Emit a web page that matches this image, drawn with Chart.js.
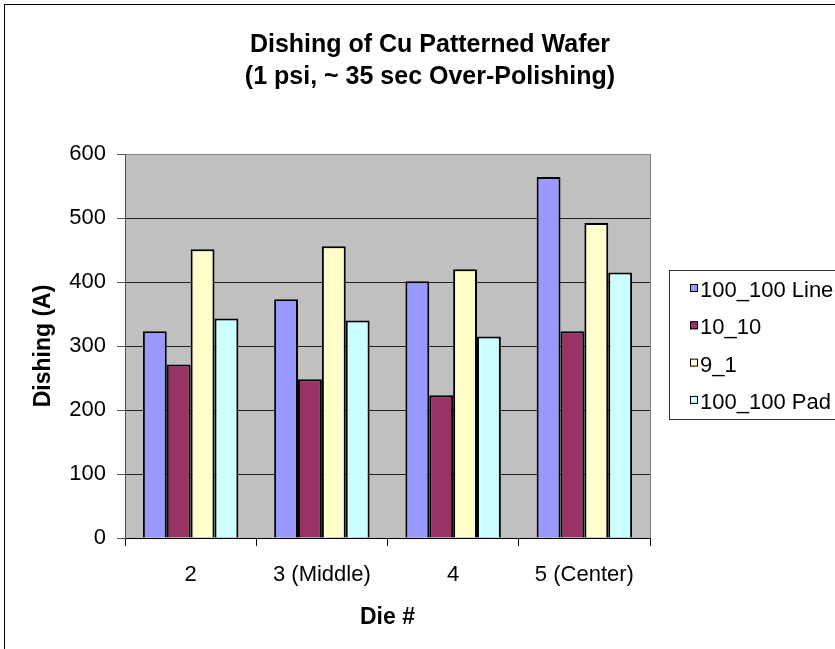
<!DOCTYPE html>
<html>
<head>
<meta charset="utf-8">
<title>Dishing of Cu Patterned Wafer</title>
<script src="https://cdn.jsdelivr.net/npm/chart.js@4.4.1/dist/chart.umd.min.js"></script>
<style>
  html, body { margin: 0; padding: 0; background: #fff; }
  canvas { display: block; }
</style>
</head>
<body>
<canvas id="myChart" width="835" height="649"></canvas>
<script>
// die positions on the wafer
const dies = ['2', '3 (Middle)', '4', '5 (Center)'];

// dishing in angstrom, one array per pattern
const line100 = [323, 373, 401, 564];
const line10 = [271, 248, 223, 323];
const line9 = [451, 456, 420, 492];
const pad100 = [343, 340, 315, 415];

const seriesNames = ['100_100 Line', '10_10', '9_1', '100_100 Pad'];
const seriesColors = ['#9999ff', '#993366', '#ffffcc', '#ccffff'];

const titleLines = ['Dishing of Cu Patterned Wafer', '(1 psi, ~ 35 sec Over-Polishing)'];

const FONT = '"Liberation Sans", Arial, Helvetica, sans-serif';
const ctx = document.getElementById('myChart').getContext('2d');

// gray plot area, outer frame, title and boxed legend
const excelFrame = {
    id: 'excelFrame',
    beforeDraw(chart) {
        const c = chart.ctx;
        const a = chart.chartArea;
        c.save();
        c.fillStyle = '#fff';
        c.fillRect(0, 0, chart.width, chart.height);
        c.fillStyle = '#c0c0c0';
        c.fillRect(a.left, a.top, a.right - a.left, a.bottom - a.top);
        c.restore();
    },
    afterDraw(chart) {
        const c = chart.ctx;
        const a = chart.chartArea;
        c.save();

        // plot area edge on the right
        c.strokeStyle = '#808080';
        c.lineWidth = 1;
        c.beginPath();
        c.moveTo(Math.round(a.right) + 0.5, a.top);
        c.lineTo(Math.round(a.right) + 0.5, a.bottom);
        c.stroke();

        // chart frame
        c.strokeStyle = '#000';
        c.strokeRect(4.5, 4.5, 900, 800);

        // title
        c.fillStyle = '#000';
        c.font = 'bold 25px ' + FONT;
        c.textAlign = 'center';
        c.textBaseline = 'alphabetic';
        c.fillText(titleLines[0], 430, 52);
        c.fillText(titleLines[1], 430, 84);

        // legend
        c.strokeStyle = '#333';
        c.strokeRect(669.5, 270.5, 300, 149);
        c.font = '22px ' + FONT;
        c.textAlign = 'left';
        seriesNames.forEach((name, i) => {
            const base = 297 + i * 37.3;
            c.fillStyle = seriesColors[i];
            c.fillRect(690, base - 13, 8, 8);
            c.strokeStyle = '#000';
            c.strokeRect(690.5, base - 12.5, 7, 7);
            c.fillStyle = '#000';
            c.fillText(name, 700, base);
        });
        c.restore();
    }
};

const values = [line100, line10, line9, pad100];

new Chart(ctx, {
    type: 'bar',
    data: {
        labels: dies,
        datasets: values.map((data, i) => ({
            label: seriesNames[i],
            data: data,
            backgroundColor: seriesColors[i],
            borderColor: '#000',
            borderWidth: 2,
            borderSkipped: 'start',
            categoryPercentage: 4 / 5.5,
            barPercentage: 1,
        })),
    },
    options: {
        responsive: false,
        animation: false,
        events: [],
        layout: {
            padding: { left: 8, right: 185, top: 154, bottom: 0 },
        },
        plugins: {
            legend: { display: false },
            title: { display: false },
            tooltip: { enabled: false },
        },
        scales: {
            x: {
                afterFit: (scale) => { scale.height = 111; },
                grid: {
                    offset: true,
                    drawOnChartArea: false,
                    tickLength: 8,
                    tickColor: '#000',
                },
                border: { color: '#000', width: 1 },
                ticks: {
                    color: '#000',
                    padding: 15.8,
                    font: { family: FONT, size: 22 },
                },
                title: {
                    display: true,
                    text: 'Die #',
                    color: '#000',
                    font: { family: FONT, size: 23, weight: 'bold' },
                    padding: { top: 0, bottom: 17.2 },
                },
            },
            y: {
                min: 0,
                max: 600,
                afterFit: (scale) => { scale.width = 117; },
                grid: {
                    color: (c) => (c.tick && c.tick.value === 600 ? '#808080' : '#222'),
                    tickLength: 8,
                    tickColor: '#555',
                },
                border: { color: '#555', width: 1 },
                ticks: {
                    stepSize: 100,
                    color: '#000',
                    padding: 11,
                    font: { family: FONT, size: 22 },
                },
                title: {
                    display: true,
                    text: 'Dishing (A)',
                    color: '#000',
                    font: { family: FONT, size: 23, weight: 'bold' },
                    padding: { top: 22.2, bottom: 0 },
                },
            },
        },
    },
    plugins: [excelFrame],
});
</script>
</body>
</html>
